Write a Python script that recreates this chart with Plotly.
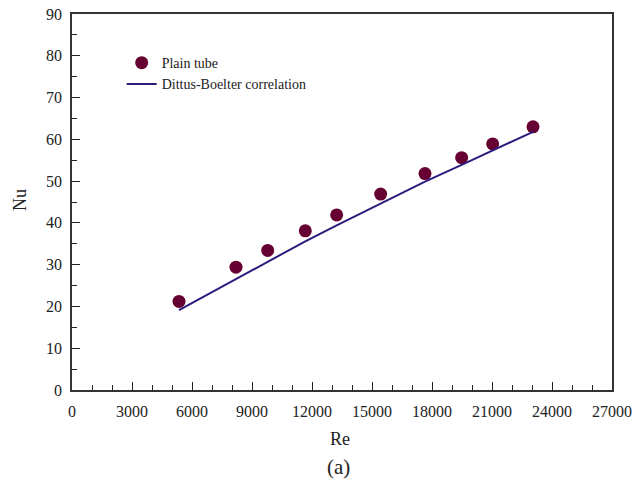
import plotly.graph_objects as go

re_exp = [5350, 8200, 9785, 11665, 13233, 15433, 17650, 19483, 21033, 23050]
nu_exp = [21.2, 29.4, 33.4, 38.1, 41.9, 46.9, 51.8, 55.6, 58.9, 63.0]
re_db = [5350, 8200, 9785, 11665, 13233, 15433, 17650, 19483, 21033, 23050]
nu_db = [19.1, 26.6, 30.8, 35.6, 39.4, 44.7, 49.9, 53.9, 57.4, 61.8]

x_ticks = [0, 3000, 6000, 9000, 12000, 15000, 18000, 21000, 24000, 27000]
y_ticks = [0, 10, 20, 30, 40, 50, 60, 70, 80, 90]

FONT = "Liberation Serif"

fig = go.Figure()
fig.add_trace(go.Scatter(x=re_exp, y=nu_exp, mode="markers", name="Plain tube",
                         marker=dict(color="#660033", size=13)))
fig.add_trace(go.Scatter(x=re_db, y=nu_db, mode="lines", name="Dittus-Boelter correlation",
                         line=dict(color="#2b1c7e", width=2)))

axis_common = dict(showgrid=False, zeroline=False, showline=True, linecolor="#333333",
                   linewidth=1.5, mirror=True, ticks="inside", ticklen=8, tickwidth=1.2,
                   tickcolor="#222222", automargin=False,
                   tickfont=dict(family=FONT, size=16, color="#222222"))

fig.update_xaxes(range=[0, 27000], tickvals=x_ticks, ticktext=[str(v) for v in x_ticks],
                 minor=dict(dtick=1000, ticks="inside", ticklen=5, tickcolor="#222222"),
                 ticklabelstandoff=6, **axis_common)
fig.update_yaxes(range=[0, 90], tickvals=y_ticks, ticktext=[str(v) for v in y_ticks],
                 minor=dict(dtick=5, ticks="inside", ticklen=5, tickcolor="#222222"),
                 ticklabelstandoff=5, **axis_common)

W, H = 540, 376
fig.update_layout(
    width=633, height=480,
    margin=dict(l=72, r=21, t=14, b=90),
    paper_bgcolor="white", plot_bgcolor="white",
    font=dict(family=FONT, color="#222222"),
    showlegend=True,
    legend=dict(x=0.092, y=0.912, xanchor="left", yanchor="top", bgcolor="rgba(0,0,0,0)",
                font=dict(family=FONT, size=14, color="#222222"), tracegroupgap=0,
                itemwidth=30),
    annotations=[
        dict(text="Nu", x=(20 - 72) / W, y=(390 - 200) / H, xref="paper", yref="paper",
             xanchor="center", yanchor="middle",
             showarrow=False, textangle=-90, font=dict(family=FONT, size=18, color="#222222")),
        dict(text="Re", x=(340 - 72) / W, y=(390 - 439) / H, xref="paper", yref="paper",
             xanchor="center", yanchor="middle",
             showarrow=False, font=dict(family=FONT, size=18, color="#222222")),
        dict(text="(a)", x=(338 - 72) / W, y=(390 - 467) / H, xref="paper", yref="paper",
             xanchor="center", yanchor="middle",
             showarrow=False, font=dict(family=FONT, size=21, color="#222222")),
    ],
)

fig.write_html("out.html")
